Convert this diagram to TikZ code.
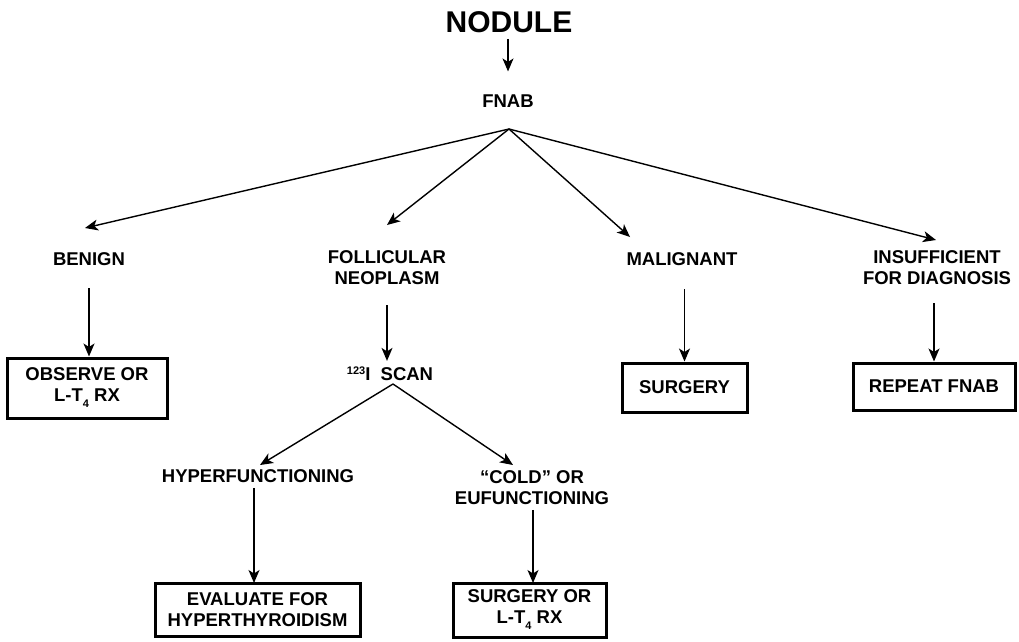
\documentclass[tikz,border=0pt]{standalone}
\usepackage{fontspec}
\setmainfont{Liberation Sans}
\usetikzlibrary{arrows.meta}
\newcommand{\supx}[1]{\raisebox{6pt}{\fontsize{11}{11}\selectfont #1}}
\newcommand{\subx}[1]{\raisebox{-6pt}{\fontsize{11}{11}\selectfont #1}}
\begin{document}
\begin{tikzpicture}[x=1pt,y=-1pt,
  lbl/.style={inner sep=0pt, align=center, font=\bfseries\fontsize{18.5}{21}\selectfont},
  big/.style={inner sep=0pt, font=\bfseries\fontsize{30}{34}\selectfont},
  box/.style={draw, line width=3pt, inner sep=0pt, align=center, font=\bfseries\fontsize{18.5}{21}\selectfont},
  arr/.style={line width=1.4pt, -{Stealth[length=13pt,width=11pt,inset=3.5pt]}}]
\useasboundingbox (0,0) rectangle (1019,641);

% nodes
\node[big] (nodule) at (509,22) {NODULE};
\node[lbl] (fnab) at (508,101) {FNAB};
\coordinate (fan) at (509,129);

\node[lbl] (benign) at (89,259) {BENIGN};
\node[lbl] (foll) at (387,267.5) {FOLLICULAR\\NEOPLASM};
\node[lbl] (malig) at (682,259) {MALIGNANT};
\node[lbl] (insuf) at (937,267.5) {INSUFFICIENT\\FOR DIAGNOSIS};

\coordinate (tbenign) at (85,228);
\coordinate (tfoll) at (387,225);
\coordinate (tmalig) at (630,237);
\coordinate (tinsuf) at (936,240);

\node[box, minimum width=160pt, minimum height=60pt] (observe) at (87,388) {OBSERVE OR\\L-T\subx{4} RX};
\node[box, minimum width=125pt, minimum height=49pt] (surgery) at (684.5,387.5) {SURGERY};
\node[box, minimum width=162pt, minimum height=47pt] (repeat) at (934,386.5) {REPEAT FNAB};

\node[lbl] (scan) at (390,374) {\supx{123}I\ \ SCAN};
\coordinate (sfan) at (393,384);
\coordinate (thyper) at (260,465);
\coordinate (tcold) at (513,465);

\node[lbl] (hyper) at (258,476) {HYPERFUNCTIONING};
\node[lbl] (cold) at (532,487.5) {“COLD” OR\\EUFUNCTIONING};

\node[box, minimum width=205pt, minimum height=53pt] (evaluate) at (257.5,609.5) {EVALUATE FOR\\HYPERTHYROIDISM};
\node[box, minimum width=153pt, minimum height=54pt] (surgery2) at (529.5,610) {SURGERY OR\\L-T\subx{4} RX};

% connectors
\draw[arr] ([yshift=-6pt]nodule.south -| fnab.north) -- ([yshift=23pt]fnab.north);
\draw[arr] (fan) -- (tbenign);
\draw[arr] (fan) -- (tfoll);
\draw[arr] (fan) -- (tmalig);
\draw[arr] (fan) -- (tinsuf);

\draw[arr] ([yshift=-22.5pt]benign.south) -- (benign.south |- observe.north);
\draw[arr] ([yshift=-20.5pt]foll.south) -- ([yshift=6pt]foll.south |- scan.north);
\draw[arr] ([yshift=-23.5pt]malig.south -| surgery.north) -- (surgery.north);
\draw[arr] ([yshift=-18.5pt]insuf.south -| repeat.north) -- (repeat.north);

\draw[arr] (sfan) -- (thyper);
\draw[arr] (sfan) -- (tcold);

\draw[arr] ([yshift=-5pt]hyper.south -| 254,0) -- (254,583);
\draw[arr] ([yshift=-5pt]cold.south -| 533,0) -- (533,583);
\end{tikzpicture}
\end{document}
